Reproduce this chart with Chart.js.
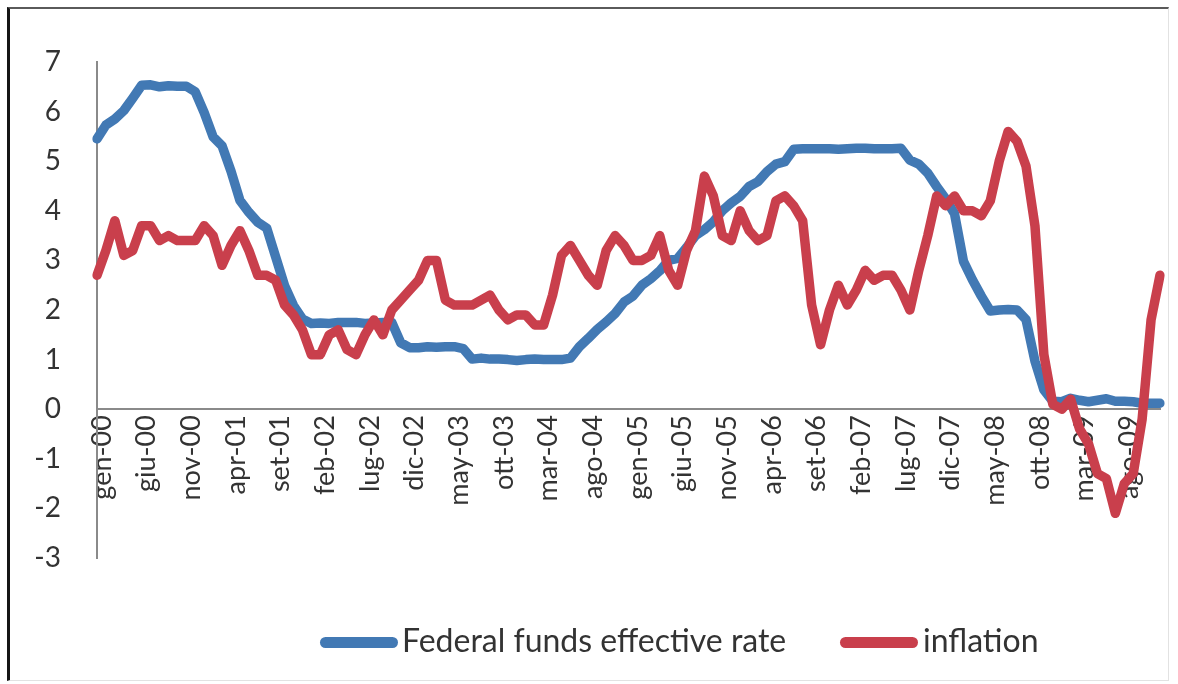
<!DOCTYPE html>
<html>
<head>
<meta charset="utf-8">
<script src="https://cdn.jsdelivr.net/npm/chart.js@4/dist/chart.umd.min.js"></script>
<style>
  html, body { margin: 0; padding: 0; background: #fff; }
  #page { position: relative; width: 1178px; height: 684px; overflow: hidden; font-family: Lato, "Open Sans", sans-serif; }
  #frame { position: absolute; left: 7px; top: 7px; width: 1162px; height: 674px; box-sizing: border-box;
           border-left: 3px solid #151515; border-top: 2px solid #5a5a5a; border-right: 1px solid #e2e2e2; border-bottom: 1px solid #e2e2e2; }
  #chart { position: absolute; left: 0; top: 0; }
  .bar { position: absolute; height: 11px; border-radius: 6px; }
  .lab { position: absolute; font-size: 32px; line-height: 32px; color: #333; white-space: nowrap; }
</style>
</head>
<body>
<div id="page">
  <canvas id="chart" width="1178" height="684"></canvas>
  <div id="frame"></div>
  <div class="bar" style="left:320px;top:637px;width:78px;background:#4279b4"></div>
  <div class="lab" id="lab1" style="left:402px;top:624px">Federal funds effective rate</div>
  <div class="bar" style="left:840px;top:637px;width:78px;background:#c93f4c"></div>
  <div class="lab" id="lab2" style="left:923px;top:624px">inflation</div>
</div>
<script>
const monthNames = ['gen','feb','mar','apr','may','giu','lug','ago','set','ott','nov','dic'];
const years = ['00','01','02','03','04','05','06','07','08','09'];
const categories = [];
years.forEach(y => monthNames.forEach(m => categories.push(m + '-' + y)));

const fedFunds = [
  5.45,5.73,5.85,6.02,6.27,6.53,6.54,6.50,6.52,6.51,6.51,6.40,
  5.98,5.49,5.31,4.80,4.21,3.97,3.77,3.65,3.07,2.49,2.09,1.82,
  1.73,1.74,1.73,1.75,1.75,1.75,1.73,1.74,1.75,1.75,1.34,1.24,
  1.24,1.26,1.25,1.26,1.26,1.22,1.01,1.03,1.01,1.01,1.00,0.98,
  1.00,1.01,1.00,1.00,1.00,1.03,1.26,1.43,1.61,1.76,1.93,2.16,
  2.28,2.50,2.63,2.79,3.00,3.04,3.26,3.50,3.62,3.78,4.00,4.16,
  4.29,4.49,4.59,4.79,4.94,4.99,5.24,5.25,5.25,5.25,5.25,5.24,
  5.25,5.26,5.26,5.25,5.25,5.25,5.26,5.02,4.94,4.76,4.49,4.24,
  3.94,2.98,2.61,2.28,1.98,2.00,2.01,2.00,1.81,0.97,0.39,0.16,
  0.15,0.22,0.18,0.15,0.18,0.21,0.16,0.16,0.15,0.12,0.12,0.12
];

const inflation = [
  2.7,3.2,3.8,3.1,3.2,3.7,3.7,3.4,3.5,3.4,3.4,3.4,
  3.7,3.5,2.9,3.3,3.6,3.2,2.7,2.7,2.6,2.1,1.9,1.6,
  1.1,1.1,1.5,1.6,1.2,1.1,1.5,1.8,1.5,2.0,2.2,2.4,
  2.6,3.0,3.0,2.2,2.1,2.1,2.1,2.2,2.3,2.0,1.8,1.9,
  1.9,1.7,1.7,2.3,3.1,3.3,3.0,2.7,2.5,3.2,3.5,3.3,
  3.0,3.0,3.1,3.5,2.8,2.5,3.2,3.6,4.7,4.3,3.5,3.4,
  4.0,3.6,3.4,3.5,4.2,4.3,4.1,3.8,2.1,1.3,2.0,2.5,
  2.1,2.4,2.8,2.6,2.7,2.7,2.4,2.0,2.8,3.5,4.3,4.1,
  4.3,4.0,4.0,3.9,4.2,5.0,5.6,5.4,4.9,3.7,1.1,0.1,
  0.0,0.2,-0.4,-0.7,-1.3,-1.4,-2.1,-1.5,-1.3,-0.2,1.8,2.7
];

const seriesNames = ['Federal funds effective rate', 'inflation'];
const tickStep = 5;
const yTicks = { min: -3, max: 7, step: 1 };

new Chart(document.getElementById('chart'), {
  type: 'line',
  data: {
    labels: categories,
    datasets: [
      { label: seriesNames[0], data: fedFunds, borderColor: '#4279b4', backgroundColor: '#4279b4',
        borderWidth: 9.5, pointRadius: 0, tension: 0, borderJoinStyle: 'round', borderCapStyle: 'round', order: 2 },
      { label: seriesNames[1], data: inflation, borderColor: '#c93f4c', backgroundColor: '#c93f4c',
        borderWidth: 9.5, pointRadius: 0, tension: 0, borderJoinStyle: 'round', borderCapStyle: 'round', order: 1 }
    ]
  },
  options: {
    responsive: false,
    animation: false,
    layout: { padding: { left: 0, top: 62, right: 18, bottom: 126 } },
    plugins: { legend: { display: false }, tooltip: { enabled: false } },
    scales: {
      x: {
        type: 'category',
        position: { y: 0 },
        offset: false,
        grid: { display: false, drawTicks: false },
        border: { display: true, color: '#8a8a8a', width: 2 },
        ticks: {
          autoSkip: false, maxRotation: 90, minRotation: 90, padding: 6, labelOffset: 5,
          color: '#333', font: { family: 'Lato', size: 27 },
          callback: (v, i) => (i % tickStep === 0 ? categories[i] : '')
        },
        afterFit: s => { s.paddingLeft = 0; s.paddingRight = 0; }
      },
      y: {
        min: yTicks.min, max: yTicks.max,
        grid: { display: false, drawTicks: false },
        border: { display: true, color: '#8a8a8a', width: 2 },
        ticks: { stepSize: yTicks.step, padding: 36, color: '#333', font: { family: 'Lato', size: 28 } },
        afterFit: s => { s.width = 97; }
      }
    }
  }
});
</script>
</body>
</html>
